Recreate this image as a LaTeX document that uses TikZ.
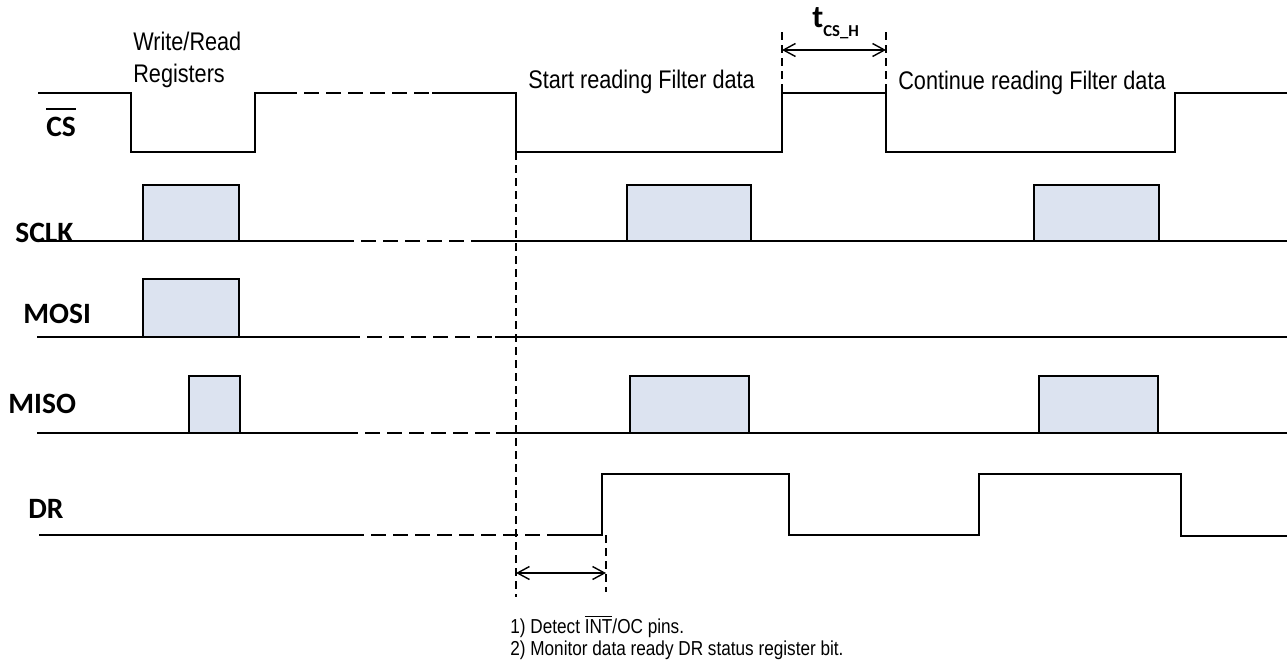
\documentclass[tikz,border=0pt]{standalone}
\usepackage{fontspec}
\setmainfont{Liberation Sans}[FakeStretch=0.85]
\newfontfamily\lblfont{Carlito}
\usepackage{xcolor}
\usepackage{tikz}
\usetikzlibrary{arrows.meta}

\definecolor{burstfill}{RGB}{220,227,240}
% bar over an active-low name
\newcommand{\ovl}[2][4pt]{\leavevmode\vbox{\hrule height 0.8pt\kern#1\hbox{#2}}}

\begin{document}
\begin{tikzpicture}[x=0.2mm, y=-0.2mm,
    sig/.style={line width=1.1pt},
    gap/.style={line width=1.1pt, dash pattern=on 3mm off 1.4mm},
    guide/.style={line width=0.6pt, dash pattern=on 1.6mm off 1mm},
    burst/.style={draw, line width=1.1pt, fill=burstfill},
    lbl/.style={anchor=base west, inner sep=0pt, font=\lblfont\bfseries\fontsize{16.8}{16.8}\selectfont},
    note/.style={anchor=base west, inner sep=0pt, align=left, font=\fontsize{14.5}{18.2}\selectfont},
    >={Straight Barb[length=2.4mm, width=2.6mm]}]
  \useasboundingbox (0,0) rectangle (1287,666);

  % signal names
  \node[lbl] (cs) at (46,136) {\ovl{CS}};
  \node[lbl] (sclk) at (15,242) {SCLK};
  \node[lbl] (mosi) at (23,323) {MOSI};
  \node[lbl] (miso) at (8,413) {MISO};
  \node[lbl] (dr) at (28,518) {DR};

  % data bursts
  \foreach \xa/\xb in {143/239, 627/751, 1034/1159}
    \draw[burst] (\xa,185) rectangle (\xb,241);
  \draw[burst] (143,279) rectangle (239,337);
  \foreach \xa/\xb in {189/240, 630/749, 1039/1158}
    \draw[burst] (\xa,376) rectangle (\xb,433);

  % CS
  \draw[sig] (38,93) -- (131,93) -- (131,152) -- (255,152) -- (255,93) -- (282,93);
  \draw[gap] (282,93) -- (432,93);
  \draw[sig] (432,93) -- (516,93) -- (516,152) -- (782,152) -- (782,93)
    -- (886,93) -- (886,152) -- (1175,152) -- (1175,93) -- (1287,93);
  % SCLK
  \draw[sig] (37,241) -- (339,241);
  \draw[gap] (339,241) -- (484,241);
  \draw[sig] (484,241) -- (1287,241);
  % MOSI
  \draw[sig] (37,337) -- (345,337);
  \draw[gap] (345,337) -- (495,337);
  \draw[sig] (495,337) -- (1287,337);
  % MISO
  \draw[sig] (37,433) -- (343,433);
  \draw[gap] (343,433) -- (496,433);
  \draw[sig] (496,433) -- (1287,433);
  % DR
  \draw[sig] (39,535) -- (349,535);
  \draw[gap] (349,535) -- (553,535);
  \draw[sig] (553,535) -- (602,535) -- (602,474) -- (789,474) -- (789,535)
    -- (979,535) -- (979,474) -- (1181,474) -- (1181,536) -- (1287,536);

  % timing marks
  \coordinate (hl) at (782,50);
  \coordinate (hr) at (886,50);
  \coordinate (dl) at (516,573);
  \coordinate (dr2) at (606,573);
  \draw[guide] (782,32) -- (782,93);
  \draw[guide] (886,32) -- (886,93);
  \draw[guide] (516,152) -- (516,597);
  \draw[guide] (606,535) -- (606,592);
  \draw[<->, line width=0.8pt] (hl) -- (hr);
  \draw[<->, line width=0.8pt] (dl) -- (dr2);

  % texts
  \node[note] (wr) at (133,82) {Write/Read\\Registers};
  \node[note] (start) at (528,88) {Start reading Filter data};
  \node[note] (cont) at (898,89) {Continue reading Filter data};
  \node[anchor=base west, inner sep=0pt, font=\lblfont\bfseries\fontsize{18}{18}\selectfont] (tcsh)
    at (812,27) {t\raisebox{-5.5pt}{\fontsize{9.5}{9.5}\selectfont CS\_H}};
  \node[note, font=\fontsize{11.5}{12.5}\selectfont] (steps) at (510,655)
    {1) Detect \ovl[1.2pt]{INT}/OC pins.\\2) Monitor data ready DR status register bit.};
\end{tikzpicture}
\end{document}
